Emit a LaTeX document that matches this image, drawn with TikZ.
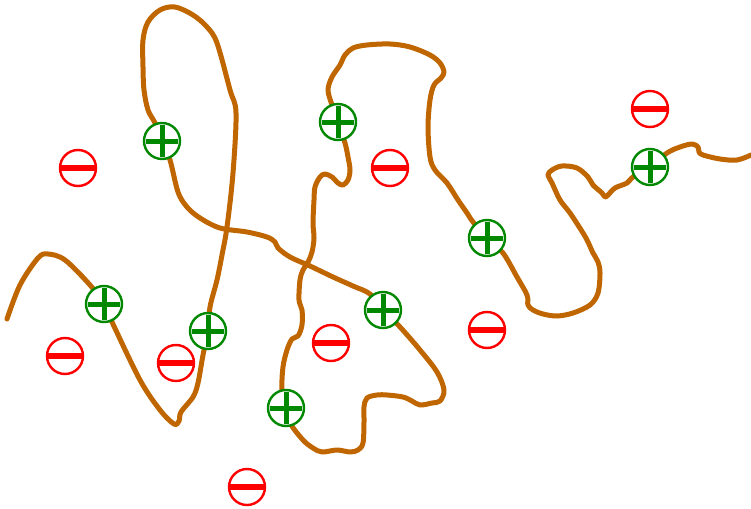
\documentclass[tikz,border=0pt]{standalone}
\usetikzlibrary{calc}
\definecolor{chain}{RGB}{192,102,0}
\definecolor{cation}{RGB}{0,136,0}
\definecolor{anion}{RGB}{255,0,0}
\tikzset{
  ion/.style={circle, draw, fill=white, line width=2.4pt, minimum size=36pt, inner sep=0pt},
  plusion/.style={ion, draw=cation, path picture={
      \draw[cation, line width=5pt]
        ($(path picture bounding box.center)+(-16pt,0)$) -- ++(32pt,0)
        ($(path picture bounding box.center)+(0,-16pt)$) -- ++(0,32pt);}},
  minusion/.style={ion, draw=anion, path picture={
      \draw[anion, line width=6pt]
        ($(path picture bounding box.center)+(-17pt,0)$) -- ++(34pt,0);}},
  backbone/.style={chain, line width=5pt, line cap=round, line join=round}
}
\begin{document}
\begin{tikzpicture}[x=1pt, y=-1pt]
\useasboundingbox (0,0) rectangle (751,508);

% the polymer backbone, one continuous strand
\draw[backbone] plot[smooth, tension=0.55] coordinates {
  (7,319) (20,285) (38,258) (48,254) (65,260) (90,285) (104,304)
  (112,322) (140,380) (160,410) (174,424) (179,421) (181,412) (193,397) (198,383) (203,355) (208,331)
  (210,307) (217,280) (222,255) (227,227) (233,173) (236,113) (230,90) (217,43) (207,27) (193,15) (175,7)
  (160,10) (148,22) (143,40) (143,67) (144,90) (148,110) (155,123) (162,141)
  (170,160) (178,192) (187,207) (200,218) (220,228) (247,232) (267,237) (275,242) (278,248) (290,257)
  (310,266) (333,277) (353,286) (370,294) (383,310)
  (400,327) (420,350) (437,372) (444,390) (440,401) (432,403) (420,405) (412,401) (403,397) (387,395)
  (377,395) (367,398) (364,407) (364,422) (363,443) (358,450) (350,452) (337,450) (322,452) (313,448)
  (303,440) (290,423) (286,408)
  (282,390) (283,367) (287,350) (292,339) (298,336) (302,325) (302,310) (299,300) (300,280) (303,270)
  (308,262) (312,252) (314,238) (313,223) (314,200) (315,187) (320,177) (325,174) (332,177) (338,183)
  (343,185) (348,180) (350,170) (348,157) (345,143) (338,122)
  (332,105) (328,90) (332,77) (340,65) (345,55) (353,48) (367,45) (390,44) (410,47) (430,55) (440,63)
  (444,72) (441,78) (434,85) (430,100) (428,127) (430,157) (435,170) (447,183) (458,200) (467,213)
  (473,222) (487,238)
  (503,253) (517,277) (527,295) (528,305) (533,310) (543,314) (557,316) (573,313) (590,305) (598,293)
  (600,273) (598,262) (593,253) (588,242) (583,233) (570,213) (560,200) (552,183) (548,175) (552,170)
  (562,166) (577,168) (588,177) (593,185) (602,193) (605,197) (608,195) (615,188) (627,183) (633,177)
  (650,167)
  (667,153) (680,147) (692,144) (698,147) (699,152) (703,155) (720,159) (737,160) (751,155)
};

% fixed charges on the strand
\node[plusion] (pA) at (104,304) {};
\node[plusion] (pB) at (208,331) {};
\node[plusion] (pC) at (162,141) {};
\node[plusion] (pD) at (383,310) {};
\node[plusion] (pE) at (286,408) {};
\node[plusion] (pF) at (338,122) {};
\node[plusion] (pG) at (487,238) {};
\node[plusion] (pH) at (650,167) {};

% free counter-ions
\node[minusion] (m1) at (78,168) {};
\node[minusion] (m2) at (65,356) {};
\node[minusion] (m3) at (176,363) {};
\node[minusion] (m4) at (247,487) {};
\node[minusion] (m5) at (331,343) {};
\node[minusion] (m6) at (390,168) {};
\node[minusion] (m7) at (487,330) {};
\node[minusion] (m8) at (650,109) {};
\end{tikzpicture}
\end{document}
